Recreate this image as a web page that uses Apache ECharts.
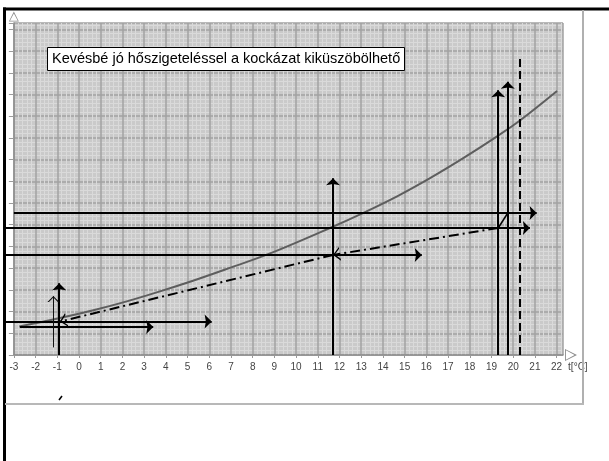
<!DOCTYPE html>
<html><head><meta charset="utf-8">
<script src="https://cdn.jsdelivr.net/npm/echarts@6/dist/echarts.min.js"></script>
<style>html,body{margin:0;padding:0;background:#fff}#c{width:609px;height:461px}</style>
</head><body><div id="c"></div>
<script>
// ---- data ----
const curveT = [-2.75,-0.88,0.66,2.2,3.73,5.25,6.8,8.8,11.56,13.1,14.63,16.17,17.7,19.24,20.31,22.02];
const curveV = [1.31,1.7,2.06,2.47,2.93,3.42,3.96,4.68,5.85,6.55,7.3,8.15,9.07,10.06,10.8,12.16];
const hArrowY    = [6.54, 5.85, 4.61, 1.54, 1.29];
const hArrowFrom = [-3, -3.45, -3.45, -3.45, -2.72];
const hArrowTo   = [21.08, 20.77, 15.79, 6.11, 3.42];
const vArrowX    = [-0.91, 11.7, 19.31, 19.75];
const vArrowTop  = [3.3, 8.14, 12.2, 12.59];
const thinArrow  = [[-1.18, 0.35], [-1.18, 2.72]];
const dashedLine = [[20.28, 0], [20.28, 13.77]];
const dashDotPath = [[19.31, 5.85], [11.7, 4.61], [-0.88, 1.54]];
const slantLine  = [[19.31, 5.85], [19.75, 6.54]];
const xMinPaper = -3, xMinData = -3.45, xTickStep = 1;
const boxText = 'Kevésbé jó hőszigeteléssel a kockázat kiküszöbölhető';
const xAxisName = 't[°C]';

// ---- layout ----
const PX0 = 79, U = 21.71, AXY = 355, TOP = 23, W = 609, H = 461;
const xMax = (563 - PX0) / U;
const yMax = (AXY - TOP) / U;
const gridRight = W - (PX0 + xMax * U);
const gridBottom = H - AXY;

const FILLED = 'path://M0,2L0.01,2ZM0,10L3,18L0,16.6L-3,18Z';
const OPEN = 'path://M0,2L0.01,2ZM0,10L4.5,18L3.3,18L0,12.2L-3.3,18L-4.5,18Z';
const HOLLOW = 'path://M0,0L8,16L-8,16ZM0,3.2L-6.2,14.8L6.2,14.8Z';

const chart = echarts.init(document.getElementById('c'), null, {renderer: 'canvas'});
const seg = (a, b) => ({coords: [a, b]});
const solidData = hArrowY.map((y, i) => seg([hArrowFrom[i], y], [hArrowTo[i], y]))
  .concat(vArrowX.map((x, i) => seg([x, 0], [x, vArrowTop[i]])));
const dashDotData = [];
for (let i = 0; i < dashDotPath.length - 1; i++) dashDotData.push(seg(dashDotPath[i], dashDotPath[i + 1]));

const common = {type: 'lines', coordinateSystem: 'cartesian2d', xAxisIndex: 1, yAxisIndex: 1, z: 4, silent: true, animation: false};

chart.setOption({
  animation: false,
  title: {
    text: boxText, left: 47, top: 47, padding: [4, 5, 4, 5], itemGap: 0,
    borderWidth: 1, borderColor: '#000', backgroundColor: '#fff',
    textStyle: {fontSize: 14.5, fontWeight: 'normal', fontFamily: 'Liberation Sans, Arial', color: '#000', lineHeight: 16}
  },
  grid: [
    {left: PX0 + xMinPaper * U, right: gridRight, top: TOP, bottom: gridBottom, show: true, backgroundColor: '#cacaca', borderWidth: 0},
    {left: PX0 + xMinData * U, right: gridRight, top: TOP, bottom: gridBottom, show: false}
  ],
  xAxis: [
    {type: 'value', gridIndex: 0, min: xMinPaper, max: xMax, interval: xTickStep,
     name: xAxisName, nameLocation: 'end', nameGap: 3,
     nameTextStyle: {fontSize: 10, color: '#444', fontFamily: 'Liberation Sans, Arial', verticalAlign: 'top', padding: [7, 0, 0, 0]},
     axisLine: {show: true, onZero: false, lineStyle: {color: '#8c8c8c', width: 1.5}, symbol: ['none', HOLLOW], symbolSize: [12, 16], symbolOffset: [0, 8]},
     axisTick: {show: true, length: 3, lineStyle: {color: '#999'}},
     axisLabel: {fontSize: 10, color: '#444', margin: 7, fontFamily: 'Liberation Sans, Arial'},
     splitLine: {show: true, lineStyle: {color: '#a2a2a2', width: 1.5}},
     minorTick: {show: false, splitNumber: 5},
     minorSplitLine: {show: true, lineStyle: {color: '#dadada', width: 1}}},
    {type: 'value', gridIndex: 1, min: xMinData, max: xMax, show: false, splitLine: {show: false}}
  ],
  yAxis: [
    {type: 'value', gridIndex: 0, min: 0, max: yMax, interval: 1,
     axisLine: {show: true, onZero: false, lineStyle: {color: '#8c8c8c', width: 1.5}, symbol: ['none', HOLLOW], symbolSize: [10, 12], symbolOffset: [0, 6.5]},
     axisTick: {show: true, length: 5, lineStyle: {color: '#9a9a9a'}},
     axisLabel: {show: false},
     splitLine: {show: true, lineStyle: {color: '#a2a2a2', width: 1.5}},
     minorTick: {show: false, splitNumber: 5},
     minorSplitLine: {show: true, lineStyle: {color: '#dadada', width: 1}}},
    {type: 'value', gridIndex: 1, min: 0, max: yMax, show: false, splitLine: {show: false}}
  ],
  series: [
    {type: 'line', xAxisIndex: 1, yAxisIndex: 1, z: 3, smooth: 0.35, showSymbol: false, silent: true,
     data: curveT.map((t, i) => [t, curveV[i]]),
     lineStyle: {color: '#5e5e5e', width: 2}},
    Object.assign({}, common, {symbol: ['none', FILLED], symbolSize: [5, 14],
     lineStyle: {color: '#000', width: 2, opacity: 1}, data: solidData}),
    Object.assign({}, common, {symbol: ['none', OPEN], symbolSize: [6, 12],
     lineStyle: {color: '#111', width: 1, opacity: 1}, data: [seg(thinArrow[0], thinArrow[1])]}),
    Object.assign({}, common, {symbol: ['none', 'none'],
     lineStyle: {color: '#000', width: 2, opacity: 1, type: [8, 4]}, data: [seg(dashedLine[0], dashedLine[1])]}),
    Object.assign({}, common, {symbol: ['none', OPEN], symbolSize: [8, 14],
     lineStyle: {color: '#000', width: 2, opacity: 1, type: [10, 4, 2, 4]}, data: dashDotData}),
    Object.assign({}, common, {symbol: ['none', 'none'],
     lineStyle: {color: '#000', width: 1.5, opacity: 1}, data: [seg(slantLine[0], slantLine[1])]})
  ],
  graphic: [
    {type: 'rect', shape: {x: 3, y: 7.5, width: 606, height: 3}, style: {fill: '#000'}, z: 10, silent: true},
    {type: 'rect', shape: {x: 3, y: 7.5, width: 3, height: 454}, style: {fill: '#000'}, z: 10, silent: true},
    {type: 'line', shape: {x1: 583, y1: 10, x2: 583, y2: 404}, style: {stroke: '#b0b0b0', lineWidth: 2}, z: 10, silent: true},
    {type: 'line', shape: {x1: 5, y1: 404, x2: 584, y2: 404}, style: {stroke: '#b8b8b8', lineWidth: 2}, z: 10, silent: true},
    {type: 'line', shape: {x1: 59, y1: 400, x2: 62, y2: 396}, style: {stroke: '#000', lineWidth: 1.5}, z: 10, silent: true}
  ]
});
</script></body></html>
